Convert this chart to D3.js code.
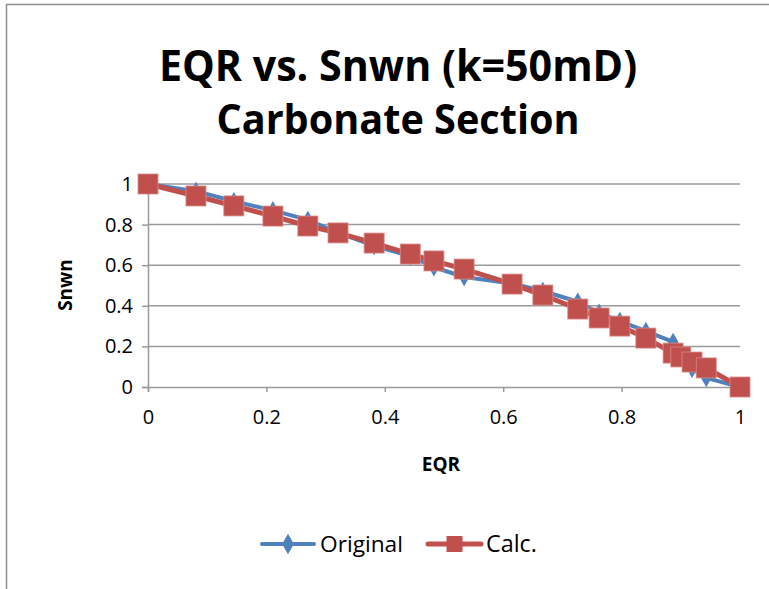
<!DOCTYPE html>
<html>
<head>
<meta charset="utf-8">
<script src="https://cdn.jsdelivr.net/npm/d3@7/dist/d3.min.js"></script>
<style>
  html, body { margin: 0; padding: 0; background: #fff; }
  svg { display: block; }
  text { font-family: "Open Sans", "Liberation Sans", sans-serif; fill: #000; }
</style>
</head>
<body>
<svg id="chart" width="769" height="589"></svg>
<script>
// EQR values shared by both series
const eqr = [0, 0.081, 0.145, 0.211, 0.270, 0.321, 0.382, 0.443, 0.483, 0.534,
             0.615, 0.667, 0.726, 0.762, 0.797, 0.841, 0.887, 0.900, 0.919, 0.943, 1.0];
// Measured normalised non-wetting saturation
const snwnOriginal = [1.0, 0.965, 0.915, 0.87, 0.823, 0.76, 0.695, 0.645, 0.59, 0.542,
                      0.51, 0.473, 0.42, 0.365, 0.325, 0.275, 0.222, 0.16, 0.09, 0.045, 0.0];
// Calculated normalised non-wetting saturation
const snwnCalc = [1.0, 0.941, 0.892, 0.842, 0.793, 0.759, 0.709, 0.655, 0.621, 0.581,
                  0.507, 0.453, 0.384, 0.340, 0.300, 0.241, 0.167, 0.148, 0.123, 0.094, 0.0];
const xTicks = [0, 0.2, 0.4, 0.6, 0.8, 1];
const yTicks = [0, 0.2, 0.4, 0.6, 0.8, 1];
const seriesNames = ["Original", "Calc."];
const titleLines = ["EQR vs. Snwn (k=50mD)", "Carbonate Section"];

const svg = d3.select("#chart");
const blue = "#4F81BD", red = "#C0504D", grid = "#9a9a9a";

// chart frame
svg.append("path")
  .attr("d", "M6.5,589 L6.5,4.5 L769,4.5")
  .attr("fill", "none").attr("stroke", "#8f8f8f").attr("stroke-width", 1.5);

const x = d3.scaleLinear().domain([0, 1]).range([148, 740]);
const y = d3.scaleLinear().domain([0, 1]).range([387, 184]);

// fit a text element to a given width by adjusting its font size
function fitWidth(el, base, width) {
  const w = el.node().getComputedTextLength();
  el.attr("font-size", base * width / w);
}

// title, two lines
const titleWidths = [478, 363];
const titleY = [81, 134];
titleLines.forEach((t, i) => {
  const g = svg.append("g").attr("transform", `translate(398,${titleY[i]}) scale(1,1.06)`);
  const el = g.append("text")
    .attr("x", 0).attr("y", 0)
    .attr("text-anchor", "middle")
    .attr("font-weight", "bold").attr("font-size", 36)
    .text(t);
  fitWidth(el, 36, titleWidths[i]);
});

// horizontal gridlines
svg.append("g").selectAll("line").data(yTicks.filter(d => d > 0)).join("line")
  .attr("x1", x(0)).attr("x2", x(1))
  .attr("y1", d => y(d)).attr("y2", d => y(d))
  .attr("stroke", grid).attr("stroke-width", 1.5);

// axes
const xAxis = svg.append("g").attr("transform", `translate(0,${y(0)})`)
  .call(d3.axisBottom(x).tickValues(xTicks).tickFormat(d3.format("")).tickSize(5).tickPadding(20));
const yAxis = svg.append("g").attr("transform", `translate(${x(0)},0)`)
  .call(d3.axisLeft(y).tickValues(yTicks).tickFormat(d3.format("")).tickSize(6).tickPadding(9));
[xAxis, yAxis].forEach(g => {
  g.select(".domain").attr("stroke", grid).attr("stroke-width", 1.5);
  g.selectAll(".tick line").attr("stroke", grid).attr("stroke-width", 1.5);
  g.selectAll(".tick text").attr("font-size", 20).attr("fill", "#000")
    .style("font-family", "'Open Sans', sans-serif");
});
xAxis.selectAll(".tick text").attr("dy", "0.6em");

// axis titles
svg.append("text").attr("x", 441).attr("y", 471).attr("text-anchor", "middle")
  .attr("font-weight", "bold").attr("font-size", 19).text("EQR");
svg.append("text").attr("transform", "translate(72,285) rotate(-90)").attr("text-anchor", "middle")
  .attr("font-weight", "bold").attr("font-size", 19).text("Snwn");

const line = d3.line().x(d => x(d[0])).y(d => y(d[1]));
const orig = eqr.map((e, i) => [e, snwnOriginal[i]]);
const calc = eqr.map((e, i) => [e, snwnCalc[i]]);

const diamond = d3.symbol().type(d3.symbolDiamond).size(100);

// Original series
svg.append("path").datum(orig).attr("d", line)
  .attr("fill", "none").attr("stroke", blue).attr("stroke-width", 4).attr("stroke-linejoin", "round");
svg.append("g").selectAll("path").data(orig).join("path")
  .attr("transform", d => `translate(${x(d[0])},${y(d[1])})`)
  .attr("d", diamond).attr("fill", blue);

// Calculated series
svg.append("path").datum(calc).attr("d", line)
  .attr("fill", "none").attr("stroke", red).attr("stroke-width", 5).attr("stroke-linejoin", "round");
svg.append("g").selectAll("rect").data(calc).join("rect")
  .attr("x", d => x(d[0]) - 10).attr("y", d => y(d[1]) - 10)
  .attr("width", 20).attr("height", 20)
  .attr("fill", red).attr("stroke", "#d98a88").attr("stroke-width", 0.8);

// legend
const legend = svg.append("g");
const items = [
  { name: seriesNames[0], color: blue, x0: 262, x1: 314, tx: 320, w: 83, marker: "diamond" },
  { name: seriesNames[1], color: red, x0: 428, x1: 481, tx: 486, w: 51, marker: "square" }
];
items.forEach(it => {
  const ly = 544;
  legend.append("line").attr("x1", it.x0).attr("x2", it.x1).attr("y1", ly).attr("y2", ly)
    .attr("stroke", it.color).attr("stroke-width", it.marker === "square" ? 5 : 4).attr("stroke-linecap", "round");
  if (it.marker === "diamond") {
    legend.append("path").attr("transform", `translate(${(it.x0 + it.x1) / 2},${ly})`)
      .attr("d", d3.symbol().type(d3.symbolDiamond).size(120)).attr("fill", it.color);
  } else {
    legend.append("rect").attr("x", (it.x0 + it.x1) / 2 - 8).attr("y", ly - 8)
      .attr("width", 16).attr("height", 16).attr("fill", it.color);
  }
  const t = legend.append("text").attr("x", it.tx).attr("y", ly + 8).attr("font-size", 20).text(it.name);
  fitWidth(t, 20, it.w);
});
</script>
</body>
</html>
